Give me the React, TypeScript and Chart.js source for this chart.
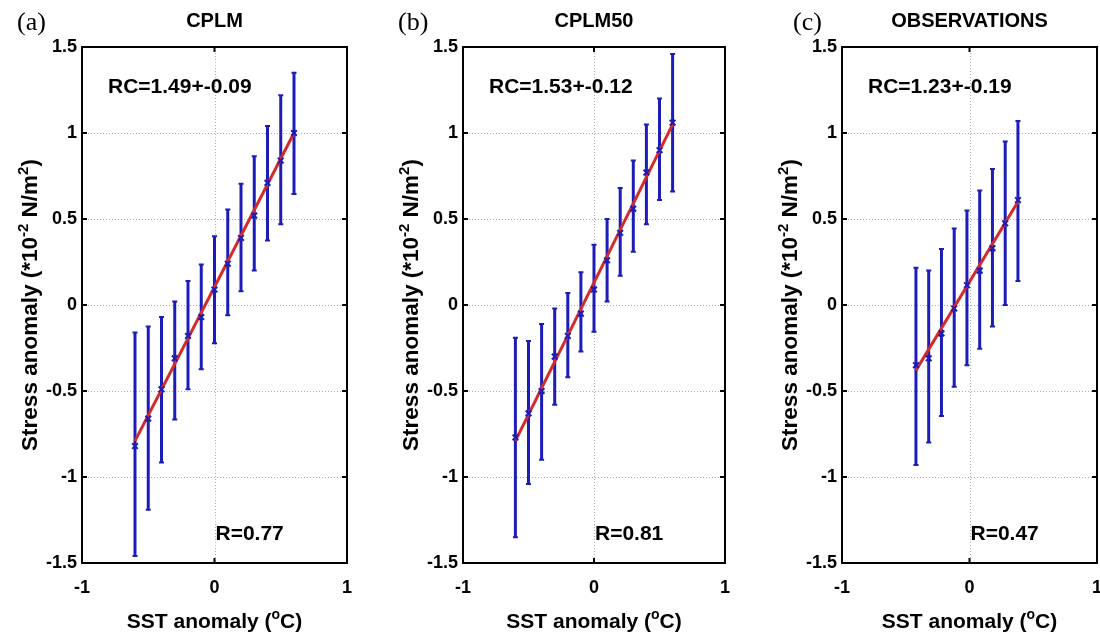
import React, { useEffect, useRef } from "react";
import { Chart, registerables } from "chart.js";

Chart.register(...registerables);

// ---------- data ----------
const panelLetters = ["(a)", "(b)", "(c)"];
const panelTitles = ["CPLM", "CPLM50", "OBSERVATIONS"];
const rcLabels = ["RC=1.49+-0.09", "RC=1.53+-0.12", "RC=1.23+-0.19"];
const rLabels = ["R=0.77", "R=0.81", "R=0.47"];

const xTicks = [-1, 0, 1];
const xTickLabels = ["-1", "0", "1"];
const yTicks = [-1.5, -1, -0.5, 0, 0.5, 1, 1.5];
const yTickLabels = ["-1.5", "-1", "-0.5", "0", "0.5", "1", "1.5"];

const cplmX = [-0.6, -0.5, -0.4, -0.3, -0.2, -0.1, 0, 0.1, 0.2, 0.3, 0.4, 0.5, 0.6];
const cplmMean = [-0.82, -0.66, -0.49, -0.31, -0.18, -0.07, 0.09, 0.24, 0.39, 0.52, 0.71, 0.84, 1.0];
const cplmLow = [-1.46, -1.19, -0.915, -0.665, -0.49, -0.373, -0.222, -0.06, 0.08, 0.2, 0.375, 0.47, 0.645];
const cplmHigh = [-0.16, -0.125, -0.07, 0.02, 0.14, 0.235, 0.4, 0.555, 0.705, 0.865, 1.04, 1.22, 1.35];
const cplmFitX = [-0.6, 0.6];
const cplmFitY = [-0.79, 1.0];

const cplm50X = [-0.6, -0.5, -0.4, -0.3, -0.2, -0.1, 0, 0.1, 0.2, 0.3, 0.4, 0.5, 0.6];
const cplm50Mean = [-0.77, -0.63, -0.5, -0.3, -0.18, -0.05, 0.09, 0.26, 0.42, 0.56, 0.77, 0.9, 1.06];
const cplm50Low = [-1.35, -1.04, -0.9, -0.58, -0.42, -0.27, -0.155, 0.02, 0.17, 0.31, 0.47, 0.61, 0.66];
const cplm50High = [-0.19, -0.21, -0.11, -0.02, 0.07, 0.19, 0.35, 0.5, 0.68, 0.84, 1.05, 1.2, 1.46];
const cplm50FitX = [-0.6, 0.6];
const cplm50FitY = [-0.79, 1.05];

const obsX = [-0.42, -0.32, -0.22, -0.12, -0.02, 0.08, 0.18, 0.28, 0.38];
const obsMean = [-0.35, -0.31, -0.165, -0.02, 0.115, 0.2, 0.33, 0.475, 0.61];
const obsLow = [-0.93, -0.8, -0.645, -0.475, -0.35, -0.255, -0.125, 0.0, 0.14];
const obsHigh = [0.217, 0.2, 0.325, 0.445, 0.55, 0.665, 0.79, 0.95, 1.07];
const obsFitX = [-0.42, 0.38];
const obsFitY = [-0.38, 0.6];

// ---------- style ----------
const BLUE = "#1c1cb8";
const RED = "#d42a2a";
const SANS = '"Liberation Sans", Arial, Helvetica, sans-serif';
const SERIF = '"Liberation Serif", "Times New Roman", serif';

type Part = [string, boolean];

function drawRich(ctx: CanvasRenderingContext2D, parts: Part[], x: number, y: number, size: number, align: "center" | "left") {
  const f = (s: number) => `bold ${s}px ${SANS}`;
  const supSize = Math.round(size * 0.68);
  const widths = parts.map(([t, sup]) => {
    ctx.font = f(sup ? supSize : size);
    return ctx.measureText(t).width;
  });
  const total = widths.reduce((a, b) => a + b, 0);
  let cx = align === "center" ? x - total / 2 : x;
  ctx.textAlign = "left";
  ctx.textBaseline = "alphabetic";
  parts.forEach(([t, sup], i) => {
    ctx.font = f(sup ? supSize : size);
    ctx.fillText(t, cx, sup ? y - size * 0.42 : y);
    cx += widths[i];
  });
}

type PanelProps = {
  idx: number;
  left: number;
  width: number;
  axisWidth: number;
  padRight: number;
  letterX: number;
  xs: number[];
  mean: number[];
  low: number[];
  high: number[];
  fitX: number[];
  fitY: number[];
};

function Panel(p: PanelProps) {
  const ref = useRef<HTMLCanvasElement | null>(null);
  useEffect(() => {
    const canvas = ref.current;
    if (!canvas) return;
    const overlay = {
      id: "matlabStyle",
      beforeDatasetsDraw(chart: any) {
        const { ctx, chartArea } = chart;
        const sx = chart.scales.x;
        const sy = chart.scales.y;
        ctx.save();
        // dotted grid
        ctx.strokeStyle = "#aaaaaa";
        ctx.lineWidth = 1;
        ctx.setLineDash([1, 2]);
        yTicks.forEach((v) => {
          if (v <= -1.5 || v >= 1.5) return;
          const py = Math.round(sy.getPixelForValue(v)) + 0.5;
          ctx.beginPath();
          ctx.moveTo(chartArea.left, py);
          ctx.lineTo(chartArea.right, py);
          ctx.stroke();
        });
        xTicks.forEach((v) => {
          if (v <= -1 || v >= 1) return;
          const px = Math.round(sx.getPixelForValue(v)) + 0.5;
          ctx.beginPath();
          ctx.moveTo(px, chartArea.top);
          ctx.lineTo(px, chartArea.bottom);
          ctx.stroke();
        });
        ctx.setLineDash([]);
        // error bars
        ctx.strokeStyle = BLUE;
        p.xs.forEach((xv, i) => {
          const px = sx.getPixelForValue(xv);
          const pl = sy.getPixelForValue(p.low[i]);
          const ph = sy.getPixelForValue(p.high[i]);
          ctx.lineWidth = 3;
          ctx.beginPath();
          ctx.moveTo(px, pl);
          ctx.lineTo(px, ph);
          ctx.stroke();
          ctx.lineWidth = 2;
          ctx.beginPath();
          ctx.moveTo(px - 2.5, pl);
          ctx.lineTo(px + 2.5, pl);
          ctx.moveTo(px - 2.5, ph);
          ctx.lineTo(px + 2.5, ph);
          ctx.stroke();
        });
        ctx.restore();
      },
      afterDraw(chart: any) {
        const { ctx, chartArea } = chart;
        const sx = chart.scales.x;
        const sy = chart.scales.y;
        const { left, right, top, bottom } = chartArea;
        ctx.save();
        // frame
        ctx.strokeStyle = "#000";
        ctx.lineWidth = 2;
        ctx.strokeRect(left, top, right - left, bottom - top);
        // inward ticks
        ctx.lineWidth = 2;
        ctx.beginPath();
        yTicks.forEach((v) => {
          const py = sy.getPixelForValue(v);
          ctx.moveTo(left, py);
          ctx.lineTo(left + 5, py);
          ctx.moveTo(right, py);
          ctx.lineTo(right - 5, py);
        });
        xTicks.forEach((v) => {
          const px = sx.getPixelForValue(v);
          ctx.moveTo(px, bottom);
          ctx.lineTo(px, bottom - 5);
          ctx.moveTo(px, top);
          ctx.lineTo(px, top + 5);
        });
        ctx.stroke();
        ctx.fillStyle = "#000";
        // panel letter
        ctx.font = `26px ${SERIF}`;
        ctx.textAlign = "left";
        ctx.textBaseline = "alphabetic";
        ctx.fillText(panelLetters[p.idx], p.letterX, 30);
        // title
        ctx.font = `bold 20px ${SANS}`;
        ctx.textAlign = "center";
        ctx.fillText(panelTitles[p.idx], (left + right) / 2, 27);
        // annotations
        ctx.font = `bold 21px ${SANS}`;
        ctx.textAlign = "left";
        ctx.fillText(rcLabels[p.idx], left + 26, top + 46);
        ctx.fillText(rLabels[p.idx], sx.getPixelForValue(0) + 1, bottom - 23);
        // x title
        drawRich(ctx, [["SST anomaly (", false], ["o", true], ["C)", false]], (left + right) / 2, 628, 21, "center");
        // y title
        ctx.save();
        ctx.translate(left - 45, (top + bottom) / 2);
        ctx.rotate(-Math.PI / 2);
        drawRich(
          ctx,
          [["Stress anomaly (*10", false], ["-2", true], [" N/m", false], ["2", true], [")", false]],
          0,
          0,
          22.5,
          "center"
        );
        ctx.restore();
        ctx.restore();
      },
    };

    const chart = new Chart(canvas, {
      type: "scatter",
      data: {
        datasets: [
          {
            type: "scatter",
            data: p.xs.map((v, i) => ({ x: v, y: p.mean[i] })),
            pointStyle: "crossRot",
            pointRadius: 4,
            borderColor: BLUE,
            backgroundColor: BLUE,
            borderWidth: 2,
            order: 0,
          } as any,
          {
            type: "line",
            data: p.fitX.map((v, i) => ({ x: v, y: p.fitY[i] })),
            borderColor: RED,
            borderWidth: 3,
            pointRadius: 0,
            showLine: true,
            fill: false,
            order: 1,
          } as any,
        ],
      },
      options: {
        animation: false,
        responsive: false,
        maintainAspectRatio: false,
        events: [],
        layout: { padding: { top: 47, right: p.padRight, bottom: 0, left: 0 } },
        plugins: { legend: { display: false }, tooltip: { enabled: false }, title: { display: false } },
        scales: {
          x: {
            type: "linear",
            min: -1,
            max: 1,
            afterBuildTicks: (s: any) => {
              s.ticks = xTicks.map((v) => ({ value: v }));
            },
            afterFit: (s: any) => {
              s.height = 76;
            },
            grid: { display: false, drawTicks: false, tickLength: 0 },
            border: { display: false },
            ticks: {
              autoSkip: false,
              maxRotation: 0,
              padding: 14,
              color: "#000",
              font: { family: SANS, size: 18, weight: "bold" },
              callback: (_v: any, i: number) => xTickLabels[i],
            },
          },
          y: {
            type: "linear",
            min: -1.5,
            max: 1.5,
            afterBuildTicks: (s: any) => {
              s.ticks = yTicks.map((v) => ({ value: v }));
            },
            afterFit: (s: any) => {
              s.width = p.axisWidth;
            },
            grid: { display: false, drawTicks: false, tickLength: 0 },
            border: { display: false },
            ticks: {
              autoSkip: false,
              padding: 5,
              color: "#000",
              font: { family: SANS, size: 18, weight: "bold" },
              callback: (_v: any, i: number) => yTickLabels[i],
            },
          },
        },
      } as any,
      plugins: [overlay],
    });
    return () => chart.destroy();
  }, []);
  return (
    <canvas
      ref={ref}
      width={p.width}
      height={639}
      style={{ position: "absolute", left: p.left, top: 0, width: p.width, height: 639 }}
    />
  );
}

export default function App() {
  return (
    <div
      style={{
        position: "fixed",
        left: 0,
        top: 0,
        width: 1100,
        height: 639,
        overflow: "hidden",
        background: "#fff",
      }}
    >
      <Panel idx={0} left={0} width={370} axisWidth={82} padRight={23} letterX={17}
        xs={cplmX} mean={cplmMean} low={cplmLow} high={cplmHigh} fitX={cplmFitX} fitY={cplmFitY} />
      <Panel idx={1} left={367} width={380} axisWidth={96} padRight={22} letterX={31}
        xs={cplm50X} mean={cplm50Mean} low={cplm50Low} high={cplm50High} fitX={cplm50FitX} fitY={cplm50FitY} />
      <Panel idx={2} left={734} width={385} axisWidth={108} padRight={22} letterX={59}
        xs={obsX} mean={obsMean} low={obsLow} high={obsHigh} fitX={obsFitX} fitY={obsFitY} />
    </div>
  );
}
